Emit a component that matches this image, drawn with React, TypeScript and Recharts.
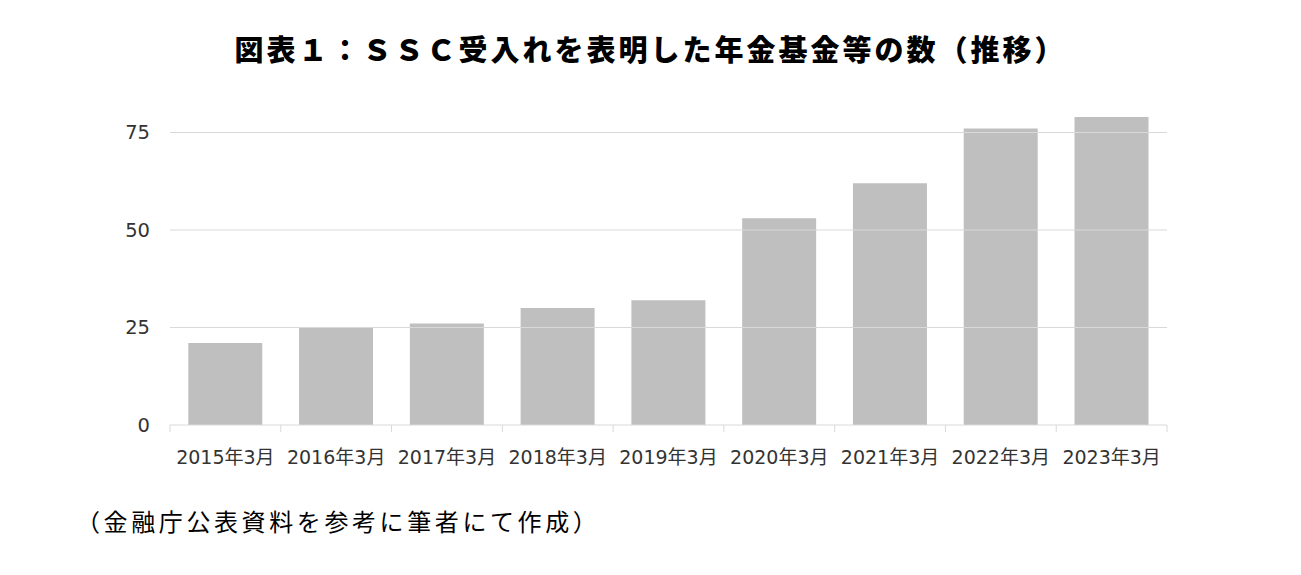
import React from "react";
import { BarChart, Bar, XAxis, YAxis, ReferenceLine } from "recharts";

const categories = [
  "2015年3月",
  "2016年3月",
  "2017年3月",
  "2018年3月",
  "2019年3月",
  "2020年3月",
  "2021年3月",
  "2022年3月",
  "2023年3月",
];
const counts = [21, 25, 26, 30, 32, 53, 62, 76, 79];
const yTicks = [0, 25, 50, 75];
const gridValues = [25, 50, 75];

const title = "図表１：ＳＳＣ受入れを表明した年金基金等の数（推移）";
const caption = "（金融庁公表資料を参考に筆者にて作成）";

const data = categories.map((c, i) => ({ name: c, value: counts[i] }));

const tickFont = "'DejaVu Sans', 'Noto Sans CJK JP', sans-serif";

const XTick = (props: any) => {
  const { x, y, payload, index, width, visibleTicksCount } = props;
  const band = width / visibleTicksCount;
  const y0 = y - 8;
  return (
    <g>
      <line x1={x - band / 2} x2={x - band / 2} y1={y0} y2={y0 + 7} stroke="#d9d9d9" />
      {index === visibleTicksCount - 1 && (
        <line x1={x + band / 2} x2={x + band / 2} y1={y0} y2={y0 + 7} stroke="#d9d9d9" />
      )}
      <text
        x={x}
        y={y0 + 39}
        textAnchor="middle"
        fill="#333"
        fontSize={19}
        fontFamily={tickFont}
      >
        {payload.value}
      </text>
    </g>
  );
};

export default function App() {
  return (
    <div
      style={{
        position: "absolute",
        left: 0,
        top: 0,
        width: 1301,
        height: 575,
        background: "#fff",
      }}
    >
      <div
        style={{
          position: "absolute",
          left: 8,
          top: 28,
          width: 1285,
          textAlign: "center",
          fontFamily: "'Noto Sans CJK JP', sans-serif",
          fontWeight: 900,
          fontSize: 29,
          lineHeight: "40px",
          letterSpacing: 3,
          color: "#000",
        }}
      >
        {title}
      </div>
      <div style={{ position: "absolute", left: 0, top: 0 }}>
        <BarChart
          width={1301}
          height={480}
          data={data}
          margin={{ top: 93.5, right: 134, left: 110, bottom: 15 }}
          barCategoryGap="16.5%"
        >
          {gridValues.map((v) => (
            <ReferenceLine key={v} y={v} stroke="#d9d9d9" />
          ))}
          <XAxis
            dataKey="name"
            axisLine={{ stroke: "#d9d9d9" }}
            tickLine={false}
            interval={0}
            height={40}
            tick={<XTick />}
          />
          <YAxis
            width={60}
            domain={[0, 85]}
            ticks={yTicks}
            axisLine={false}
            tickLine={false}
            tickSize={0}
            tickMargin={20}
            tick={{ fill: "#333", fontSize: 19.5, fontFamily: tickFont }}
          />
          <Bar dataKey="value" fill="#bfbfbf" isAnimationActive={false} />
        </BarChart>
      </div>
      <div
        style={{
          position: "absolute",
          left: 76,
          top: 504,
          fontFamily: "'Noto Sans CJK JP', sans-serif",
          fontSize: 24,
          lineHeight: "34px",
          letterSpacing: 3.6,
          color: "#000",
        }}
      >
        {caption}
      </div>
    </div>
  );
}
